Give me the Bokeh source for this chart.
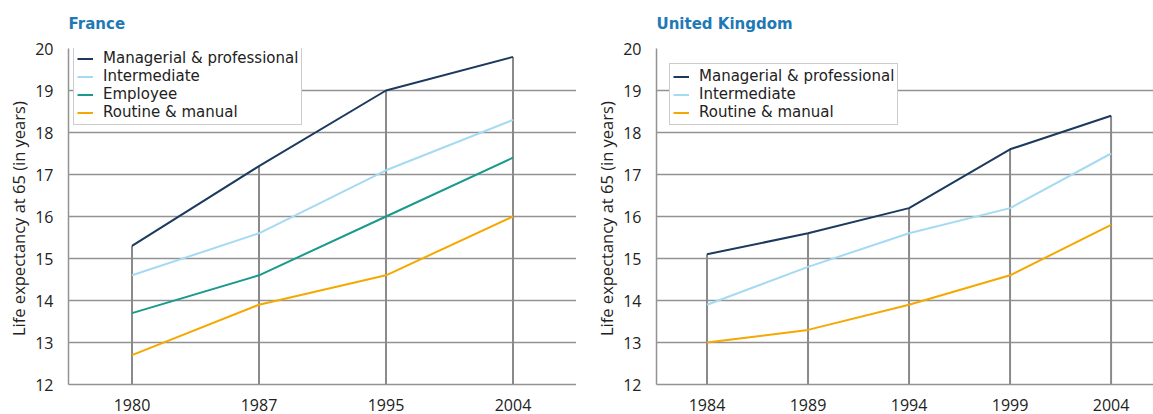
import numpy as np
from bokeh.plotting import figure
from bokeh.layouts import row
from bokeh.models import Range1d, FixedTicker, Legend
from bokeh.embed import file_html
from bokeh.resources import INLINE

# ---- data ----
fr_years = ["1980", "1987", "1995", "2004"]
fr_managerial = [15.3, 17.2, 19.0, 19.8]
fr_intermediate = [14.6, 15.6, 17.1, 18.3]
fr_employee = [13.7, 14.6, 16.0, 17.4]
fr_routine = [12.7, 13.9, 14.6, 16.0]

uk_years = ["1984", "1989", "1994", "1999", "2004"]
uk_managerial = [15.1, 15.6, 16.2, 17.6, 18.4]
uk_intermediate = [13.9, 14.8, 15.6, 16.2, 17.5]
uk_routine = [13.0, 13.3, 13.9, 14.6, 15.8]

y_ticks = [12, 13, 14, 15, 16, 17, 18, 19, 20]

COL_MAN = "#1b3a5e"
COL_INT = "#a5daf3"
COL_EMP = "#1a9a8c"
COL_ROU = "#f5a800"
GRID = "#929292"
DROP = "#8a8a8a"
TXT = "#222222"
TITLE = "#1f79b5"
FONT = "Open Sans"
FONT2 = "DejaVu Sans"

H = 414
TOP = 48
BOTTOM = 30
FRAME_H = H - TOP - BOTTOM


def make_panel(title, years, series, width, border_left, x_end, legend_loc):
    n = len(years)
    xs = list(range(n))
    p = figure(width=width, height=H, output_backend="svg", toolbar_location=None,
               x_range=Range1d(-0.5, x_end), y_range=Range1d(y_ticks[0], y_ticks[-1]),
               min_border_left=border_left, min_border_right=0, min_border_top=TOP,
               min_border_bottom=BOTTOM, outline_line_color=None)
    p.title.text = title
    p.title.text_font = FONT2
    p.title.text_font_size = "15px"
    p.title.text_font_style = "bold"
    p.title.text_color = TITLE
    p.title.align = "left"
    p.title.vertical_align = "top"
    p.title.offset = 0
    p.title.standoff = 28

    # drop lines from axis to highest series
    tops = np.max(np.array([s[1] for s in series]), axis=0)
    p.segment(x0=xs, y0=[y_ticks[0]] * n, x1=xs, y1=tops, line_color=DROP, line_width=2)

    items = []
    for label, vals, col in series:
        r = p.line(xs, vals, line_color=col, line_width=2)
        items.append((label, [r]))

    legend = Legend(items=items, location=legend_loc)
    legend.label_text_font = FONT2
    legend.label_text_font_size = "15px"
    legend.label_text_color = TXT
    legend.label_height = 17
    legend.glyph_height = 17
    legend.glyph_width = 16
    legend.label_standoff = 10
    legend.spacing = 0
    legend.padding = 3
    legend.margin = 0
    legend.border_line_color = "#9a9a9a"
    legend.border_line_width = 1.5
    legend.background_fill_alpha = 1
    p.add_layout(legend)

    p.xgrid.grid_line_color = None
    p.ygrid.grid_line_color = GRID
    p.ygrid.grid_line_width = 1.5
    p.ygrid.ticker = FixedTicker(ticks=y_ticks)

    p.xaxis.ticker = FixedTicker(ticks=xs)
    p.xaxis.major_label_overrides = {i: y for i, y in enumerate(years)}
    p.yaxis.ticker = FixedTicker(ticks=y_ticks)
    for ax in (p.xaxis[0], p.yaxis[0]):
        ax.axis_line_color = GRID
        ax.axis_line_width = 1.5
        ax.major_tick_line_color = None
        ax.minor_tick_line_color = None
        ax.major_label_text_font = FONT
        ax.major_label_text_font_size = "16px"
        ax.major_label_text_color = TXT
    p.xaxis.major_label_standoff = 8
    p.yaxis.major_label_standoff = 9
    p.yaxis.axis_label = "Life expectancy at 65  (in years)"
    p.yaxis.axis_label_text_font = FONT
    p.yaxis.axis_label_text_font_size = "16.5px"
    p.yaxis.axis_label_text_font_style = "normal"
    p.yaxis.axis_label_text_color = TXT
    p.yaxis.axis_label_standoff = 2
    return p


fr = make_panel("France", fr_years,
                [("Managerial & professional", fr_managerial, COL_MAN),
                 ("Intermediate", fr_intermediate, COL_INT),
                 ("Employee", fr_employee, COL_EMP),
                 ("Routine & manual", fr_routine, COL_ROU)],
                width=576, border_left=68, x_end=3.5,
                legend_loc=(5, FRAME_H - 77))

uk = make_panel("United Kingdom", uk_years,
                [("Managerial & professional", uk_managerial, COL_MAN),
                 ("Intermediate", uk_intermediate, COL_INT),
                 ("Routine & manual", uk_routine, COL_ROU)],
                width=577, border_left=80, x_end=4.42,
                legend_loc=(13, 259))

layout = row(fr, uk)
open("out.html", "w").write(file_html(layout, INLINE))
